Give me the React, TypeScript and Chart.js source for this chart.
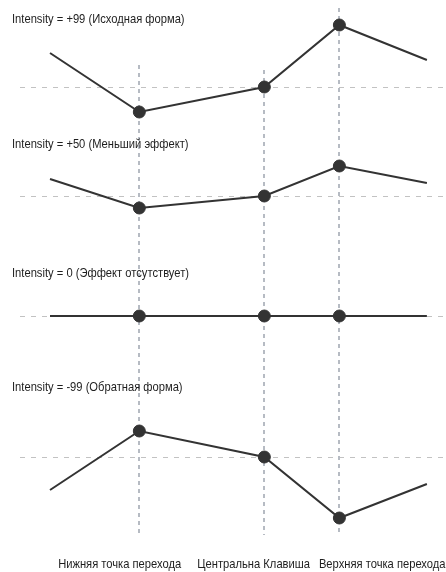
import React, { useEffect, useRef } from "react";
import { Chart, registerables } from "chart.js";

Chart.register(...registerables);

// x positions along the keyboard (start, lower split, center key, upper split, end)
const xPositions = [0, 1, 2.4, 3.24, 4.22];
const guidePositions = [1, 2.4, 3.24];
const guideLabels = ["Нижняя точка перехода", "Центральна Клавиша", "Верхняя точка перехода"];
const labelPositions = [0.78, 2.28, 3.72];

const panelTitles = [
  "Intensity = +99 (Исходная форма)",
  "Intensity = +50 (Меньший эффект)",
  "Intensity = 0 (Эффект отсутствует)",
  "Intensity = -99 (Обратная форма)",
];
const seriesPlus99 = [34, -25, 0, 62, 27];
const seriesPlus50 = [17, -12, 0, 30, 13];
const seriesZero = [0, 0, 0, 0, 0];
const seriesMinus99 = [-33, 26, 0, -61, -27];
const allSeries = [seriesPlus99, seriesPlus50, seriesZero, seriesMinus99];

// vertical range of each panel (same units for all panels)
const panelMax = [79, 63, 54, 81];
const panelMin = [-46, -66, -60, -78];

const FONT = "'Liberation Sans', Arial, sans-serif";
const TEXT_SQUEEZE = 0.86;
const LINE = "#333333";

export default function App() {
  const ref = useRef<HTMLCanvasElement | null>(null);
  useEffect(() => {
    const canvas = ref.current;
    if (!canvas) return;
    const xMin = -0.336;
    const xMax = 4.434;

    const scales: any = {
      x: { type: "linear", display: false, min: xMin, max: xMax },
    };
    // stacked axes are laid out bottom-up in insertion order, so insert the last panel first
    for (let i = allSeries.length - 1; i >= 0; i--) {
      scales["y" + i] = {
        type: "linear",
        position: "left",
        stack: "panels",
        stackWeight: panelMax[i] - panelMin[i],
        min: panelMin[i],
        max: panelMax[i],
        afterBuildTicks: (s: any) => {
          s.ticks = [{ value: 0 }];
        },
        ticks: { display: false },
        border: { display: false, dash: [5, 6] },
        grid: {
          drawTicks: false,
          color: "#c2c2c2",
          lineWidth: 1,
        },
      };
    }

    const datasets = allSeries.map((s, i) => ({
      data: s.map((v, j) => ({ x: xPositions[j], y: v })),
      xAxisID: "x",
      yAxisID: "y" + i,
      borderColor: LINE,
      borderWidth: 2,
      backgroundColor: LINE,
      pointBackgroundColor: LINE,
      pointBorderColor: LINE,
      pointBorderWidth: 1,
      pointRadius: s.map((_v, j) => (j === 0 || j === s.length - 1 ? 0 : 6)),
      tension: 0,
      fill: false,
    }));

    const drawText = (ctx: CanvasRenderingContext2D, t: string, x: number, y: number, align: "left" | "center") => {
      ctx.save();
      ctx.translate(x, y);
      ctx.scale(TEXT_SQUEEZE, 1);
      ctx.textAlign = align;
      ctx.fillText(t, 0, 0);
      ctx.restore();
    };

    const guides = {
      id: "guides",
      beforeDatasetsDraw(chart: any) {
        const { ctx, chartArea, scales: sc } = chart;
        const tops = [22, 17, null];
        ctx.save();
        ctx.strokeStyle = "#b6bbc3";
        ctx.lineWidth = 2;
        ctx.setLineDash([4, 4]);
        guidePositions.forEach((g, i) => {
          const px = Math.round(sc.x.getPixelForValue(g));
          const t = tops[i];
          const top = t === null ? chartArea.top : sc.y0.getPixelForValue(t);
          ctx.beginPath();
          ctx.moveTo(px, top);
          ctx.lineTo(px, chartArea.bottom);
          ctx.stroke();
        });
        ctx.restore();
      },
      afterDraw(chart: any) {
        const { ctx, chartArea, scales: sc } = chart;
        ctx.save();
        ctx.fillStyle = "#1e1e1e";
        ctx.font = `13px ${FONT}`;
        ctx.textBaseline = "middle";
        panelTitles.forEach((t, i) => {
          drawText(ctx, t, 12, sc["y" + i].top + 11, "left");
        });
        guideLabels.forEach((t, i) => {
          drawText(ctx, t, sc.x.getPixelForValue(labelPositions[i]), chartArea.bottom + 29, "center");
        });
        ctx.restore();
      },
    };

    const chart = new Chart(canvas, {
      type: "line",
      data: { datasets },
      options: {
        animation: false,
        responsive: false,
        devicePixelRatio: 1,
        layout: { padding: { top: 8, left: 20, right: 0, bottom: 37 } },
        plugins: { legend: { display: false }, tooltip: { enabled: false } },
        scales,
      } as any,
      plugins: [guides],
    });
    return () => chart.destroy();
  }, []);

  return (
    <div style={{ position: "absolute", left: 0, top: 0, width: 446, height: 572 }}>
      <canvas ref={ref} width={446} height={572} style={{ width: 446, height: 572 }} />
    </div>
  );
}
